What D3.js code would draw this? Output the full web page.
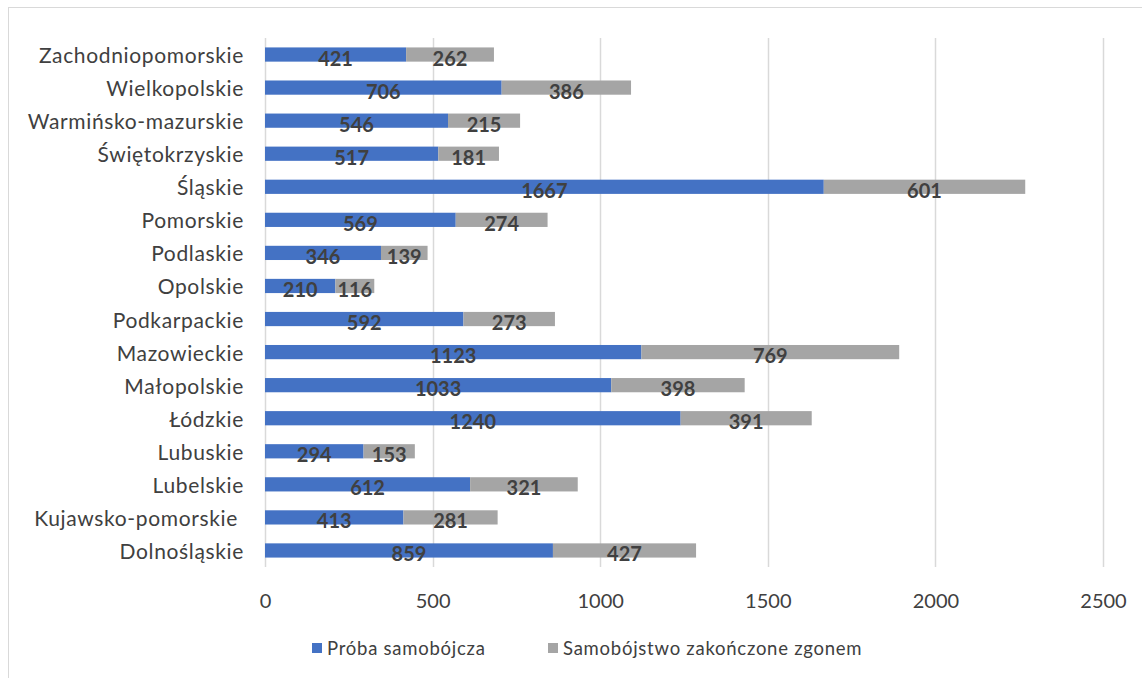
<!doctype html>
<html lang="pl">
<head>
<meta charset="UTF-8">
<title>Próby samobójcze według województw</title>
<script src="https://cdnjs.cloudflare.com/ajax/libs/d3/7.8.5/d3.min.js"></script>
<style>
    html, body { margin: 0; padding: 0; background: #fff; }
    svg { display: block; font-family: Lato, "Open Sans", sans-serif; }
</style>
</head>
<body>
<svg id="chart" width="1142" height="678"></svg>
<script>
    // dane, od góry do dołu
    var regions = ['Zachodniopomorskie', 'Wielkopolskie', 'Warmińsko-mazurskie', 'Świętokrzyskie',
        'Śląskie', 'Pomorskie', 'Podlaskie', 'Opolskie', 'Podkarpackie', 'Mazowieckie',
        'Małopolskie', 'Łódzkie', 'Lubuskie', 'Lubelskie', 'Kujawsko-pomorskie ', 'Dolnośląskie'];
    var attempts = [421, 706, 546, 517, 1667, 569, 346, 210, 592, 1123, 1033, 1240, 294, 612, 413, 859];
    var deaths = [262, 386, 215, 181, 601, 274, 139, 116, 273, 769, 398, 391, 153, 321, 281, 427];
    var seriesNames = ['Próba samobójcza', 'Samobójstwo zakończone zgonem'];
    var colors = ['#4472C4', '#A5A5A5'];
    var xTicks = [0, 500, 1000, 1500, 2000, 2500];

    var svg = d3.select('#chart');
    var margin = {left: 265, top: 38, right: 39, bottom: 111};
    var width = 1142 - margin.left - margin.right;
    var height = 678 - margin.top - margin.bottom;

    // ramka wykresu
    svg.append('rect')
        .attr('x', 8.5).attr('y', 7.5)
        .attr('width', 1200).attr('height', 700)
        .attr('fill', 'none')
        .attr('stroke', '#D9D9D9');

    var g = svg.append('g').attr('transform', 'translate(' + margin.left + ',' + margin.top + ')');

    var x = d3.scaleLinear().domain([0, 2500]).range([0, width]);
    var y = d3.scaleBand().domain(regions).range([0, height]).paddingInner(0.57).paddingOuter(0.285);

    // linie siatki
    g.selectAll('line.grid')
        .data(xTicks)
        .enter()
        .append('line')
        .attr('class', 'grid')
        .attr('x1', function (d) { return Math.round(x(d)) + 0.5; })
        .attr('x2', function (d) { return Math.round(x(d)) + 0.5; })
        .attr('y1', 0)
        .attr('y2', height)
        .attr('stroke', '#D9D9D9')
        .attr('stroke-width', 1.5);

    var rows = regions.map(function (r, i) {
        return {region: r, values: [attempts[i], deaths[i]]};
    });

    rows.forEach(function (row) {
        var start = 0;
        row.values.forEach(function (v, k) {
            g.append('rect')
                .attr('x', x(start))
                .attr('y', y(row.region))
                .attr('width', x(start + v) - x(start))
                .attr('height', y.bandwidth())
                .attr('fill', colors[k]);

            g.append('text')
                .attr('x', x(start + v / 2))
                .attr('y', y(row.region) + y.bandwidth() / 2 + 3)
                .attr('text-anchor', 'middle')
                .attr('dominant-baseline', 'central')
                .attr('font-size', '20px')
                .attr('font-weight', 'bold')
                .attr('fill', '#404040')
                .text(v);
            start += v;
        });
    });

    // etykiety województw
    g.selectAll('text.cat')
        .data(regions)
        .enter()
        .append('text')
        .attr('class', 'cat')
        .attr('x', -21)
        .attr('y', function (d) { return y(d) + y.bandwidth() / 2; })
        .attr('text-anchor', 'end')
        .attr('dominant-baseline', 'central')
        .attr('font-size', '21px')
        .attr('letter-spacing', '0.65px')
        .attr('fill', '#404040')
        .style('white-space', 'pre')
        .text(function (d) { return d; });

    // oś X
    var xAxis = d3.axisBottom(x).tickValues(xTicks).tickFormat(d3.format('d')).tickSize(0).tickPadding(0);
    var ax = g.append('g')
        .attr('transform', 'translate(0,' + (height + 23) + ')')
        .call(xAxis);
    ax.select('.domain').remove();
    ax.selectAll('text')
        .attr('dy', '0.9em')
        .attr('font-size', '20px')
        .attr('font-family', 'Lato, "Open Sans", sans-serif')
        .attr('fill', '#404040');

    // legenda
    var legendX = [312, 548];
    seriesNames.forEach(function (name, k) {
        svg.append('rect')
            .attr('x', legendX[k])
            .attr('y', 643)
            .attr('width', 10)
            .attr('height', 10)
            .attr('fill', colors[k]);
        svg.append('text')
            .attr('x', legendX[k] + 15)
            .attr('y', 648)
            .attr('dominant-baseline', 'central')
            .attr('font-size', '18.5px')
            .attr('letter-spacing', '0.75px')
            .attr('fill', '#404040')
            .text(name);
    });
</script>
</body>
</html>
